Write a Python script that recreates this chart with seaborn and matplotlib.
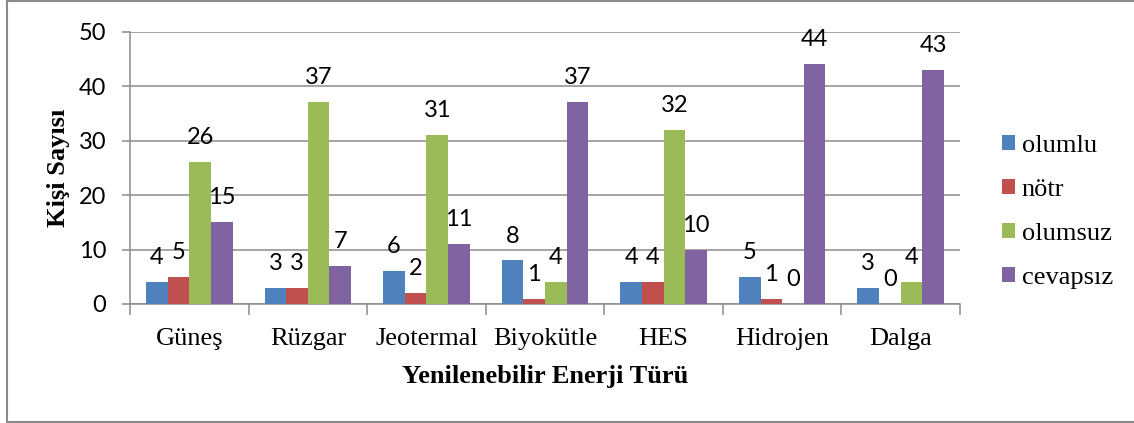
import pandas as pd
import numpy as np
import matplotlib
matplotlib.use("Agg")
import matplotlib.pyplot as plt
from matplotlib.lines import Line2D
import seaborn as sns

# chart data
categories = ["Güneş", "Rüzgar", "Jeotermal", "Biyokütle", "HES", "Hidrojen", "Dalga"]
series = ["olumlu", "nötr", "olumsuz", "cevapsız"]
olumlu = [4, 3, 6, 8, 4, 5, 3]
notr = [5, 3, 2, 1, 4, 1, 0]
olumsuz = [26, 37, 31, 4, 32, 0, 4]
cevapsiz = [15, 7, 11, 37, 10, 44, 43]
y_ticks = [0, 10, 20, 30, 40, 50]
colors = ["#4F81BD", "#C0504D", "#9BBB59", "#8064A2"]

df = pd.DataFrame({
    "kategori": categories * 4,
    "seri": sum([[s] * len(categories) for s in series], []),
    "deger": olumlu + notr + olumsuz + cevapsiz,
})

serif = "Liberation Serif"
sans = "Lato"
grid_c = "#8C8C8C"

fig = plt.figure(figsize=(11.34, 4.23), dpi=100)
ax = fig.add_axes([130 / 1134, 119 / 423, 830 / 1134, 272.5 / 423])

sns.barplot(data=df, x="kategori", y="deger", hue="seri", order=categories,
            hue_order=series, palette=colors, saturation=1, width=0.73,
            errorbar=None, linewidth=0, ax=ax, zorder=3)

# data labels
for cont, vals in zip(ax.containers, [olumlu, notr, olumsuz, cevapsiz]):
    ax.bar_label(cont, labels=[str(v) for v in vals], padding=10,
                 fontsize=17, family=sans, color="black")

ax.set_ylim(0, 50)
ax.set_xlim(-0.5, len(categories) - 0.5)
ax.set_yticks(y_ticks)
ax.set_yticklabels([str(t) for t in y_ticks], family=sans, fontsize=17)
ax.yaxis.grid(True, color=grid_c, linewidth=1.1, zorder=0)
ax.set_axisbelow(True)

# category ticks: marks at boundaries, labels in centers
ax.set_xticks(range(len(categories)))
ax.set_xticklabels(categories, family=serif, fontsize=19)
ax.set_xticks(np.arange(-0.5, len(categories)), minor=True)
ax.tick_params(axis="x", which="major", length=0, pad=17)
ax.tick_params(axis="x", which="minor", length=8, color=grid_c, width=1.1)
ax.tick_params(axis="y", length=6, color=grid_c, width=1.1, pad=11)

for s in ["top", "right"]:
    ax.spines[s].set_visible(False)
for s in ["left", "bottom"]:
    ax.spines[s].set_color(grid_c)
    ax.spines[s].set_linewidth(1.1)

ax.set_xlabel("Yenilenebilir Enerji Türü", family=serif, fontsize=19, fontweight="bold")
ax.set_ylabel("Kişi Sayısı", family=serif, fontsize=19, fontweight="bold")
ax.xaxis.set_label_coords(0.5, -0.225)
ax.yaxis.set_label_coords(-0.0723, 0.5)

ax.legend(loc="center left", bbox_to_anchor=(1002 / 1134, 211 / 423),
          bbox_transform=fig.transFigure, frameon=False, borderpad=0,
          borderaxespad=0, handlelength=0.5, handleheight=0.5,
          handletextpad=0.25, labelspacing=0.84,
          prop={"family": serif, "size": 19})

# chart border (right side runs off the picture)
bx0, by0, by1 = 6.5 / 1134, 1.5 / 423, 421.5 / 423
for xs, ys in [([bx0, 1.0], [by1, by1]), ([bx0, bx0], [by0, by1]), ([bx0, 1.0], [by0, by0])]:
    fig.add_artist(Line2D(xs, ys, transform=fig.transFigure,
                          color="#8A8A8A", linewidth=1.5))

fig.savefig("out.png", dpi=100)
